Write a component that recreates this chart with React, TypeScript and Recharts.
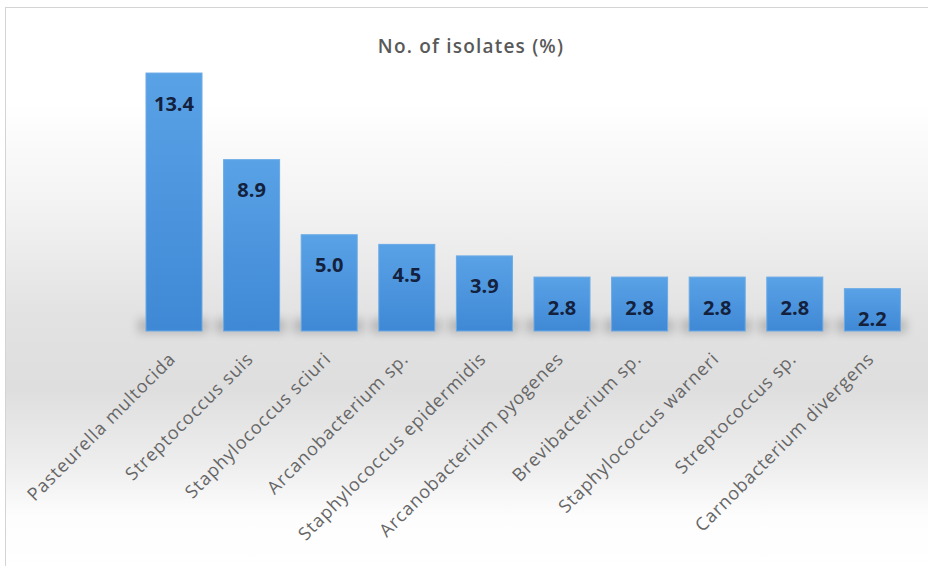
import React from "react";
import { BarChart, Bar, XAxis, YAxis, LabelList } from "recharts";

const species = [
  "Pasteurella multocida",
  "Streptococcus suis",
  "Staphylococcus sciuri",
  "Arcanobacterium sp.",
  "Staphylococcus epidermidis",
  "Arcanobacterium pyogenes",
  "Brevibacterium sp.",
  "Staphylococcus warneri",
  "Streptococcus sp.",
  "Carnobacterium divergens",
];

const isolatesPct = [13.4, 8.9, 5.0, 4.5, 3.9, 2.8, 2.8, 2.8, 2.8, 2.2];

const data = species.map((name, i) => ({ name, value: isolatesPct[i] }));

const TEXT_FONT = "'Open Sans', 'DejaVu Sans', sans-serif";

function SpeciesTick(props: any) {
  const { x, y, payload } = props;
  const ax = x + 3;
  const ay = y + 21;
  return (
    <text
      x={ax}
      y={ay}
      transform={`rotate(-45, ${ax}, ${ay})`}
      textAnchor="end"
      fill="#666666"
      fontSize={18}
      letterSpacing={0.9}
      fontFamily={TEXT_FONT}
    >
      {payload.value}
    </text>
  );
}

function ValueLabel(props: any) {
  const { x, y, width, value } = props;
  return (
    <text
      x={x + width / 2}
      y={y + 30}
      textAnchor="middle"
      dominantBaseline="central"
      fill="#14213d"
      fontSize={20}
      fontWeight="bold"
      fontFamily={TEXT_FONT}
    >
      {Number(value).toFixed(1)}
    </text>
  );
}

function ShadowBar(props: any) {
  const { x, y, width, height } = props;
  return (
    <g>
      <rect
        x={x - 8}
        y={y + height - 12}
        width={width + 14}
        height={14}
        fill="#444"
        opacity={0.28}
        filter="url(#barShadow)"
      />
      <rect x={x} y={y} width={width} height={height} fill="url(#barFill)" stroke="#6aaae6" strokeWidth={1} />
    </g>
  );
}

export default function App() {
  return (
    <div
      style={{
        position: "fixed",
        left: 0,
        top: 0,
        width: 928,
        height: 566,
        background: "#ffffff",
      }}
    >
      <div
        style={{
          position: "absolute",
          left: 5,
          top: 7,
          width: 923,
          height: 559,
          borderTop: "1px solid #d4d4d4",
          borderLeft: "1px solid #d4d4d4",
          background:
            "linear-gradient(to bottom, #ffffff 0%, #ffffff 17%, #f3f3f3 35%, #e2e2e2 55%, #dedede 68%, #eeeeee 82%, #fdfdfd 91%, #ffffff 100%)",
        }}
      />
      <div
        style={{
          position: "absolute",
          left: 0,
          top: 33,
          width: 942,
          textAlign: "center",
          fontFamily: TEXT_FONT,
          fontSize: 19,
          fontWeight: 600,
          letterSpacing: 1.2,
          color: "#595959",
        }}
      >
        No. of isolates (%)
      </div>
      <div style={{ position: "absolute", left: 0, top: 0 }}>
        <BarChart
          width={928}
          height={566}
          data={data}
          margin={{ top: 23, right: 17, bottom: 0, left: 135 }}
          barSize={56}
        >
          <defs>
            <linearGradient id="barFill" x1="0" y1="0" x2="0" y2="1">
              <stop offset="0%" stopColor="#5aa2e6" />
              <stop offset="100%" stopColor="#3f88d5" />
            </linearGradient>
            <filter id="barShadow" x="-50%" y="-100%" width="200%" height="300%">
              <feGaussianBlur stdDeviation="5" />
            </filter>
          </defs>
          <XAxis
            dataKey="name"
            interval={0}
            height={235}
            axisLine={false}
            tickLine={false}
            tick={<SpeciesTick />}
          />
          <YAxis hide domain={[0, 16]} />
          <Bar dataKey="value" isAnimationActive={false} shape={<ShadowBar />}>
            <LabelList dataKey="value" content={<ValueLabel />} />
          </Bar>
        </BarChart>
      </div>
    </div>
  );
}
